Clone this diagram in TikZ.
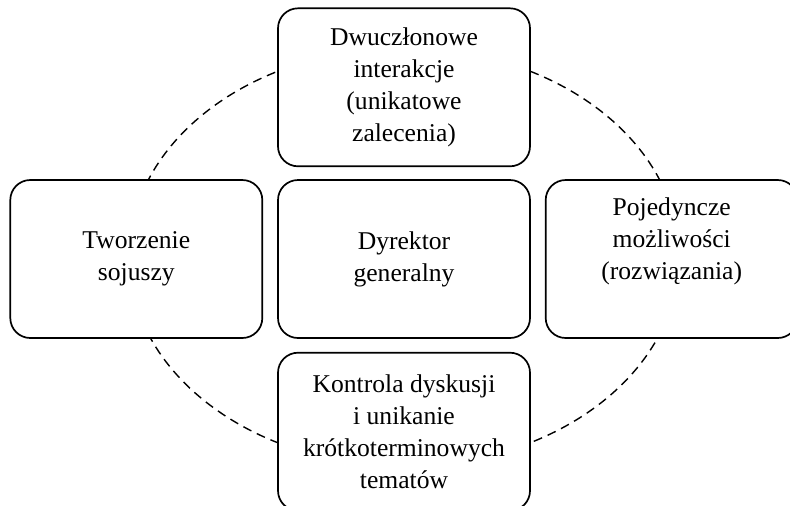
\documentclass[tikz,border=0pt]{standalone}
\usepackage{fontspec}
\setmainfont{Liberation Serif}
\usetikzlibrary{positioning}

\begin{document}
\begin{tikzpicture}[x=0.5pt,y=-0.5pt,
    box/.style={draw,line width=0.85pt,rounded corners=10pt,fill=white,
      minimum width=126pt,minimum height=79pt,inner sep=2pt,
      align=center,font=\fontsize{12.8}{16}\selectfont},
    ring/.style={dash pattern=on 4.5pt off 3pt,line width=0.7pt}]
  \useasboundingbox (0,0) rectangle (790,505);
  \clip (0,0) rectangle (790,505);
  % dashed ring, boxes are drawn over it
  \draw[ring] (404,257) ellipse [x radius=275,y radius=209];
  % middle box and the four round it
  \node[box] (dyr) at (404,259) {Dyrektor\\generalny};
  \node[box,above=6pt of dyr] (dwu) {Dwuczłonowe\\interakcje\\(unikatowe\\zalecenia)};
  \node[box,left=7pt of dyr] (soj) {Tworzenie\\sojuszy};
  \node[box,right=7pt of dyr] (poj) {Pojedyncze\\możliwości\\(rozwiązania)\\[4pt]};
  \node[box,below=6.5pt of dyr] (kon) {Kontrola dyskusji\\i unikanie\\krótkoterminowych\\tematów};
\end{tikzpicture}
\end{document}
